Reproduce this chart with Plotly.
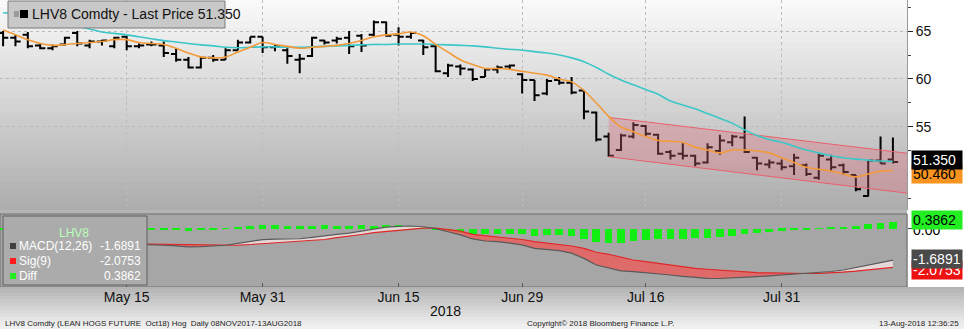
import plotly.graph_objects as go

# ---------------- data ----------------
dates = ["2018-05-01","2018-05-02","2018-05-03","2018-05-04","2018-05-07","2018-05-08","2018-05-09","2018-05-10",
         "2018-05-11","2018-05-14","2018-05-15","2018-05-16","2018-05-17","2018-05-18","2018-05-21","2018-05-22",
         "2018-05-23","2018-05-24","2018-05-25","2018-05-29","2018-05-30","2018-05-31","2018-06-01","2018-06-04",
         "2018-06-05","2018-06-06","2018-06-07","2018-06-08","2018-06-11","2018-06-12","2018-06-13","2018-06-14",
         "2018-06-15","2018-06-18","2018-06-19","2018-06-20","2018-06-21","2018-06-22","2018-06-25","2018-06-26",
         "2018-06-27","2018-06-28","2018-06-29","2018-07-02","2018-07-03","2018-07-05","2018-07-06","2018-07-09",
         "2018-07-10","2018-07-11","2018-07-12","2018-07-13","2018-07-16","2018-07-17","2018-07-18","2018-07-19",
         "2018-07-20","2018-07-23","2018-07-24","2018-07-25","2018-07-26","2018-07-27","2018-07-30","2018-07-31",
         "2018-08-01","2018-08-02","2018-08-03","2018-08-06","2018-08-07","2018-08-08","2018-08-09","2018-08-10",
         "2018-08-13"]

open_ = [64.8,64.3,64.6,63.5,63.2,63.6,64.8,63.5,63.9,63.4,64.4,63.4,63.6,63.5,62.6,62.0,61.2,62.2,62.0,63.0,
         63.8,64.4,63.3,63.0,62.0,62.4,64.0,64.0,64.3,64.5,64.6,65.9,64.6,64.4,64.0,63.4,60.6,61.3,61.0,60.2,
         61.0,61.3,60.5,59.9,58.5,59.9,59.6,58.8,56.5,54.0,52.6,54.0,55.1,54.2,52.4,52.2,52.0,51.3,52.5,53.4,
         53.9,51.8,51.1,51.2,50.9,51.0,49.7,51.6,51.0,50.0,47.8,51.5,51.6]
high_ = [65.0,64.6,64.9,63.7,63.6,64.4,65.0,64.1,64.1,64.4,64.5,63.7,63.9,63.9,63.2,62.3,62.3,62.5,63.2,64.1,
         64.4,64.4,63.6,63.2,62.6,64.4,64.1,64.4,65.0,64.7,66.1,66.0,65.4,64.9,64.1,63.5,61.6,61.5,61.1,61.1,
         61.4,61.5,60.6,59.9,60.0,60.2,60.2,58.85,56.6,54.4,54.3,55.5,55.2,54.3,52.6,53.3,52.1,53.3,54.2,54.2,
         56.1,51.9,51.6,51.6,52.2,51.2,52.2,52.1,51.2,50.0,51.56,54.0,53.9]
low_ = [63.4,63.4,63.2,63.1,63.0,63.5,63.4,63.2,63.5,63.2,63.0,63.2,63.4,62.3,61.8,61.1,61.1,61.8,62.0,63.0,
        63.7,62.7,62.9,61.6,60.6,62.3,63.6,63.7,62.6,62.8,64.4,64.4,63.5,64.2,62.5,60.7,60.2,60.4,59.8,60.2,
        60.6,61.0,58.5,57.7,58.3,59.4,58.4,55.8,53.5,51.9,52.5,53.8,54.0,52.1,51.6,51.6,50.9,51.2,52.1,53.0,
        52.3,50.5,50.7,50.5,50.0,49.9,49.5,50.3,50.0,48.3,47.75,51.2,51.2]
close_ = [64.3,63.9,63.4,63.2,63.4,64.3,63.7,63.9,64.0,64.3,63.4,63.5,63.6,62.7,62.0,61.2,62.2,62.0,63.0,63.8,
          64.4,63.3,63.4,62.4,62.1,64.3,63.8,64.2,63.4,63.5,65.9,64.5,64.4,64.8,63.3,60.8,61.4,61.1,60.0,61.0,
          61.2,61.4,59.9,58.3,59.8,59.6,58.6,56.6,53.7,52.0,54.1,55.2,54.3,52.2,52.0,52.0,51.2,52.9,53.6,54.0,
          52.4,51.2,51.3,50.8,51.8,50.1,52.0,50.8,50.3,48.5,51.5,51.2,51.35]

ma_fast = [65.1,64.6,64.1,63.7,63.5,63.6,63.7,63.8,63.9,64.1,64.1,63.8,63.7,63.6,63.2,62.7,62.3,62.2,62.3,62.8,
           63.3,63.8,63.6,63.4,63.2,63.3,63.4,63.5,63.7,64.0,64.4,64.6,64.7,64.9,64.5,63.6,62.8,62.0,61.5,61.1,
           61.1,61.0,60.8,60.6,60.4,60.0,59.7,58.8,57.5,56.1,55.0,54.5,54.0,53.6,53.5,53.4,52.9,52.6,52.3,52.6,
           52.6,52.5,52.3,51.8,51.3,50.8,50.6,50.4,50.1,49.8,50.1,50.4,50.46]
ma_slow = [66.9,66.8,66.6,66.3,66.1,65.8,65.5,65.2,64.9,64.75,64.6,64.4,64.2,64.0,63.85,63.7,63.55,63.45,63.3,63.25,
           63.3,63.35,63.35,63.3,63.3,63.35,63.4,63.45,63.5,63.55,63.6,63.6,63.65,63.65,63.65,63.6,63.55,63.5,63.45,63.35,
           63.2,63.1,63.0,62.85,62.7,62.5,62.2,61.8,61.2,60.5,59.9,59.4,58.9,58.4,57.7,57.3,56.9,56.4,55.9,55.4,
           54.7,54.1,53.7,53.4,53.0,52.6,52.3,52.0,51.8,51.65,51.55,51.45,51.4]

macd = [-0.72,-0.74,-0.76,-0.79,-0.81,-0.81,-0.82,-0.82,-0.81,-0.80,-0.81,-0.83,-0.84,-0.88,-0.92,-0.97,-0.96,-0.93,
        -0.88,-0.78,-0.66,-0.58,-0.55,-0.54,-0.53,-0.45,-0.35,-0.29,-0.22,-0.10,-0.02,0.10,0.14,0.16,0.12,0.02,
        -0.15,-0.32,-0.54,-0.65,-0.68,-0.75,-0.86,-1.05,-1.10,-1.17,-1.31,-1.59,-1.95,-2.13,-2.27,-2.31,-2.36,-2.43,
        -2.49,-2.56,-2.63,-2.67,-2.68,-2.66,-2.62,-2.58,-2.54,-2.50,-2.46,-2.42,-2.36,-2.30,-2.22,-2.10,-1.95,-1.82,
        -1.6891]
signal = [-0.66,-0.68,-0.70,-0.72,-0.74,-0.76,-0.77,-0.78,-0.79,-0.79,-0.80,-0.81,-0.82,-0.83,-0.85,-0.87,-0.89,-0.90,
          -0.90,-0.88,-0.84,-0.79,-0.75,-0.71,-0.68,-0.63,-0.57,-0.47,-0.40,-0.30,-0.20,-0.13,-0.06,0.02,0.05,0.05,
          -0.03,-0.12,-0.29,-0.36,-0.43,-0.50,-0.57,-0.68,-0.75,-0.82,-0.92,-1.05,-1.26,-1.37,-1.53,-1.68,-1.77,-1.87,
          -1.96,-2.04,-2.13,-2.18,-2.23,-2.29,-2.33,-2.36,-2.38,-2.40,-2.41,-2.41,-2.40,-2.38,-2.33,-2.28,-2.22,-2.15,
          -2.0753]
diff = [m - s for m, s in zip(macd, signal)]

# regression channel (start bar, beyond right edge)
chan_x = [49, 74]
chan_top = [56.0, 52.13]
chan_bot = [51.9, 47.97]

label_dates = ["2018-05-15","2018-05-31","2018-06-15","2018-06-29","2018-07-16","2018-07-31"]
label_text = ["May 15","May 31","Jun 15","Jun 29","Jul 16","Jul 31"]
price_ticks = [55, 60, 65]

last_price = close_[-1]

# ---------------- figure ----------------
W, H = 964, 329
idx = list(range(len(dates)))
tickpos = [dates.index(d) for d in label_dates]
XR = [-0.25, 73.14]
XD = [0, 907 / W]
TOP_D = [1 - 210 / H, 1]
BOT_D = [1 - 287 / H, 1 - 214 / H]

fig = go.Figure()

# channel
fig.add_trace(go.Scatter(x=chan_x, y=chan_bot, mode="lines", line=dict(color="#e8606c", width=1),
                         xaxis="x", yaxis="y", hoverinfo="skip"))
fig.add_trace(go.Scatter(x=chan_x, y=chan_top, mode="lines", line=dict(color="#e8606c", width=1),
                         fill="tonexty", fillcolor="rgba(225,110,125,0.33)", xaxis="x", yaxis="y",
                         hoverinfo="skip"))
# moving averages
fig.add_trace(go.Scatter(x=idx, y=ma_slow, mode="lines", line=dict(color="#3cc6c8", width=1.6, shape="spline"),
                         xaxis="x", yaxis="y"))
fig.add_trace(go.Scatter(x=idx, y=ma_fast, mode="lines", line=dict(color="#f39a3a", width=1.6, shape="spline"),
                         xaxis="x", yaxis="y"))
# OHLC bars
fig.add_trace(go.Ohlc(x=idx, open=open_, high=high_, low=low_, close=close_, xaxis="x", yaxis="y",
                      increasing=dict(line=dict(color="black", width=2)),
                      decreasing=dict(line=dict(color="black", width=2)),
                      tickwidth=0.42))

# MACD panel
lo = [min(m, s) for m, s in zip(macd, signal)]
fig.add_trace(go.Scatter(x=idx, y=lo, mode="lines", line=dict(width=0), xaxis="x2", yaxis="y2", hoverinfo="skip"))
fig.add_trace(go.Scatter(x=idx, y=signal, mode="lines", line=dict(width=0), fill="tonexty",
                         fillcolor="rgba(232,95,95,0.85)", xaxis="x2", yaxis="y2", hoverinfo="skip"))
fig.add_trace(go.Scatter(x=idx, y=lo, mode="lines", line=dict(width=0), xaxis="x2", yaxis="y2", hoverinfo="skip"))
fig.add_trace(go.Scatter(x=idx, y=macd, mode="lines", line=dict(width=0), fill="tonexty",
                         fillcolor="rgba(236,222,222,0.9)", xaxis="x2", yaxis="y2", hoverinfo="skip"))
fig.add_trace(go.Bar(x=idx, y=diff, marker=dict(color="#11ee11", line=dict(width=0)), width=0.62,
                     xaxis="x2", yaxis="y2"))
fig.add_trace(go.Scatter(x=idx, y=signal, mode="lines", line=dict(color="#e02828", width=1.2),
                         xaxis="x2", yaxis="y2"))
fig.add_trace(go.Scatter(x=idx, y=macd, mode="lines", line=dict(color="#5a5a5a", width=1.2),
                         xaxis="x2", yaxis="y2"))

# ---------- background gradients ----------
shapes = []
def lerp(a, b, t):
    return tuple(int(round(a[i] + (b[i] - a[i]) * t)) for i in range(3))

n = 30
eps = 1.5 / H
for k in range(n):
    y0 = TOP_D[0] + (TOP_D[1] - TOP_D[0]) * k / n
    y1 = TOP_D[0] + (TOP_D[1] - TOP_D[0]) * (k + 1) / n + eps
    c = lerp((172, 172, 172), (250, 250, 250), (k + 0.5) / n)
    shapes.append(dict(type="rect", xref="paper", yref="paper", x0=XD[0], x1=XD[1], y0=y0, y1=min(y1, 1),
                       fillcolor="rgb(%d,%d,%d)" % c, line=dict(width=0), layer="below"))
# gap strip between panels
shapes.append(dict(type="rect", xref="paper", yref="paper", x0=0, x1=XD[1], y0=BOT_D[1], y1=TOP_D[0],
                   fillcolor="#b4b4b4", line=dict(width=0), layer="below"))
# MACD panel background
shapes.append(dict(type="rect", xref="paper", yref="paper", x0=0, x1=XD[1], y0=BOT_D[0], y1=BOT_D[1],
                   fillcolor="#a6a6a6", line=dict(color="#6e6e6e", width=1), layer="below"))
# bottom strip gradient
m = 12
for k in range(m):
    y1 = BOT_D[0] * (1 - k / m) + eps
    y0 = BOT_D[0] * (1 - (k + 1) / m)
    c = lerp((176, 176, 176), (242, 242, 242), (k + 0.5) / m)
    shapes.append(dict(type="rect", xref="paper", yref="paper", x0=0, x1=1, y0=y0, y1=min(y1, BOT_D[0]),
                       fillcolor="rgb(%d,%d,%d)" % c, line=dict(width=0), layer="below"))

def px(xp):
    return xp / W
def py(yp):
    return 1 - yp / H

# top-left legend box
shapes.append(dict(type="rect", xref="paper", yref="paper", x0=px(8), x1=px(225), y0=py(28), y1=py(1),
                   fillcolor="#c8c8c8", line=dict(color="#7a7a7a", width=1), layer="above"))
shapes.append(dict(type="rect", xref="paper", yref="paper", x0=px(14), x1=px(19), y0=py(17), y1=py(11),
                   fillcolor="#9a9a9a", line=dict(width=0), layer="above"))
shapes.append(dict(type="rect", xref="paper", yref="paper", x0=px(20), x1=px(28), y0=py(18), y1=py(10),
                   fillcolor="#000000", line=dict(width=0), layer="above"))
# MACD legend box
shapes.append(dict(type="rect", xref="paper", yref="paper", x0=px(3), x1=px(147), y0=py(285), y1=py(216),
                   fillcolor="#ababab", line=dict(color="#5e5e5e", width=1), layer="above"))
for yy, col in [(246, "#404040"), (261, "#ff1a1a"), (276, "#22ee22")]:
    shapes.append(dict(type="rect", xref="paper", yref="paper", x0=px(10), x1=px(16), y0=py(yy + 3),
                       y1=py(yy - 3), fillcolor=col, line=dict(width=0), layer="above"))

annotations = []
FONT = "Liberation Sans"
annotations.append(dict(xref="paper", yref="paper", x=px(30), y=py(14.5), xanchor="left", yanchor="middle",
                        text="LHV8 Comdty - Last Price %.3f" % last_price, showarrow=False,
                        font=dict(family=FONT, size=14, color="#111111")))
annotations.append(dict(xref="paper", yref="paper", x=px(74), y=py(233), xanchor="center", yanchor="middle",
                        text="LHV8", showarrow=False, font=dict(family=FONT, size=12, color="#b8ffb8")))
rows = [("MACD(12,26)", macd[-1], 246), ("Sig(9)", signal[-1], 261), ("Diff", diff[-1], 276)]
for name, val, yy in rows:
    annotations.append(dict(xref="paper", yref="paper", x=px(17), y=py(yy), xanchor="left", yanchor="middle",
                            text=name, showarrow=False, font=dict(family=FONT, size=12, color="white")))
    annotations.append(dict(xref="paper", yref="paper", x=px(143), y=py(yy), xanchor="right", yanchor="middle",
                            text="%.4f" % val, showarrow=False, font=dict(family=FONT, size=12, color="white")))

# right-side value boxes
def valbox(yref, yval, text, bg, fg):
    return dict(xref="paper", yref=yref, x=px(911), y=yval, xanchor="left", yanchor="middle", text=text,
                showarrow=False, bgcolor=bg, font=dict(family=FONT, size=14, color=fg), borderpad=1,
                width=48, align="left")
annotations.append(valbox("y", ma_fast[-1] - 0.35, "%.3f" % ma_fast[-1], "#f7931e", "black"))
annotations.append(valbox("y", last_price + 0.2, "%.3f" % last_price, "#000000", "white"))
annotations.append(valbox("y2", -0.05, "0.00", "rgba(0,0,0,0)", "black"))
annotations.append(valbox("y2", diff[-1] + 0.1, "%.4f" % diff[-1], "#22ee22", "black"))
annotations.append(valbox("y2", signal[-1] - 0.12, "%.4f" % signal[-1], "#ee1111", "white"))
annotations.append(valbox("y2", macd[-1] + 0.05, "%.4f" % macd[-1], "#4a4a4a", "white"))

annotations.append(dict(xref="paper", yref="paper", x=px(445), y=py(311), xanchor="center", yanchor="middle",
                        text="2018", showarrow=False, font=dict(family=FONT, size=14, color="#111111")))
annotations.append(dict(xref="paper", yref="paper", x=px(3), y=py(323), xanchor="left", yanchor="middle",
                        text="LHV8 Comdty (LEAN HOGS FUTURE  Oct18) Hog  Daily 08NOV2017-13AUG2018",
                        showarrow=False, font=dict(family=FONT, size=8, color="#222222")))
annotations.append(dict(xref="paper", yref="paper", x=px(600), y=py(323), xanchor="center", yanchor="middle",
                        text="Copyright\u00a9 2018 Bloomberg Finance L.P.", showarrow=False,
                        font=dict(family=FONT, size=8, color="#222222")))
annotations.append(dict(xref="paper", yref="paper", x=px(961), y=py(323), xanchor="right", yanchor="middle",
                        text="13-Aug-2018 12:36:25", showarrow=False, font=dict(family=FONT, size=8, color="#222222")))

fig.update_layout(
    width=W, height=H, margin=dict(l=0, r=0, t=0, b=0),
    paper_bgcolor="white", plot_bgcolor="rgba(0,0,0,0)",
    showlegend=False, bargap=0,
    font=dict(family=FONT, size=14, color="#111111"),
    xaxis=dict(domain=XD, range=XR, anchor="y", tickvals=tickpos, showticklabels=False, ticks="",
               showgrid=True, gridcolor="#bdbdbd", griddash="dot", gridwidth=1, zeroline=False,
               rangeslider=dict(visible=False), fixedrange=True),
    yaxis=dict(domain=TOP_D, range=[46.35, 68.23], side="right", anchor="x", tickvals=price_ticks,
               ticks="outside", ticklen=5, tickcolor="#222", tickfont=dict(size=14, color="#111"),
               showline=True, linecolor="#9a9a9a", linewidth=1, showgrid=True, gridcolor="#bdbdbd",
               griddash="dot", zeroline=False,
               minor=dict(tickvals=[47.5, 52.5, 57.5, 62.5, 67.5], ticks="outside", ticklen=3, tickcolor="#444")),
    xaxis2=dict(domain=XD, range=XR, anchor="y2", tickvals=tickpos, ticktext=label_text, ticks="inside",
                ticklen=4, tickcolor="#555", tickfont=dict(size=14, color="#111"), showgrid=False,
                zeroline=False, fixedrange=True),
    yaxis2=dict(domain=BOT_D, range=[-3.14, 0.81], side="right", anchor="x2", tickvals=[0], showticklabels=False,
                ticks="outside", ticklen=4, tickcolor="#444", showline=True, linecolor="#9a9a9a",
                showgrid=False, zeroline=False),
    shapes=shapes, annotations=annotations,
)

fig.write_html("out.html")
